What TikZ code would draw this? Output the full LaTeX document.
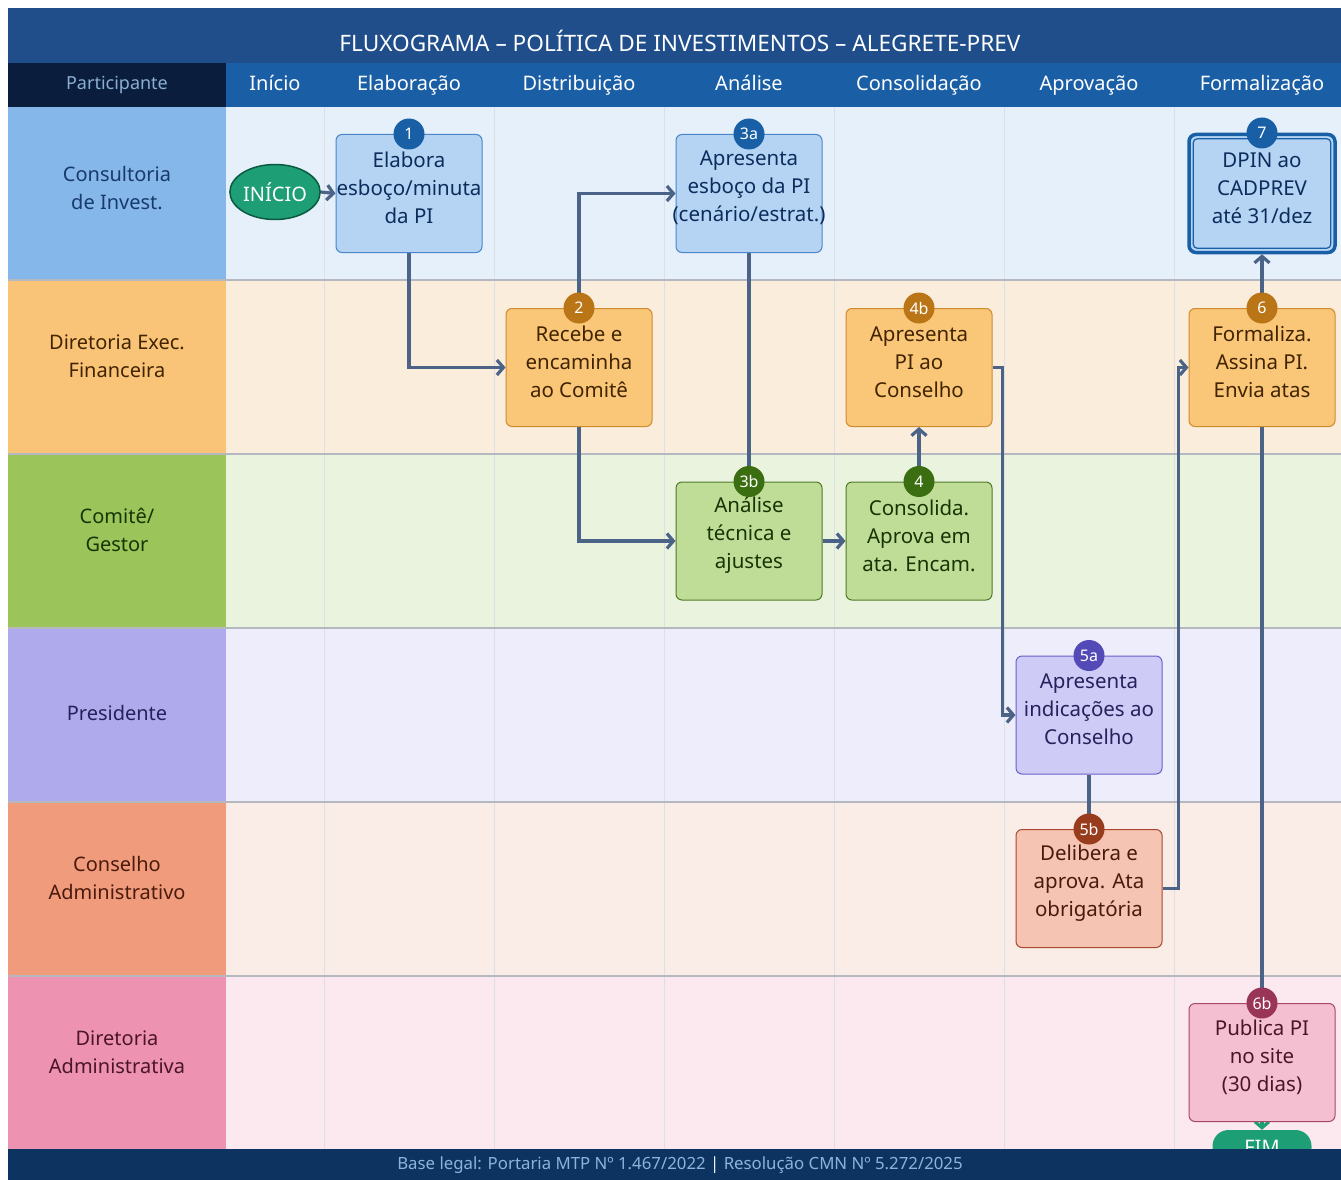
\documentclass[tikz,border=0pt]{standalone}
\usepackage{fontspec}
\setmainfont{Noto Sans}
\usetikzlibrary{arrows.meta,shapes.geometric,calc}
\pgfdeclarelayer{bg}
\pgfdeclarelayer{edges}
\pgfdeclarelayer{fg}
\pgfsetlayers{bg,edges,main,fg}
\definecolor{titlebg}{HTML}{1F4E8A}
\definecolor{headbg}{HTML}{1A5EA6}
\definecolor{partbg}{HTML}{0B1D3C}
\definecolor{parttxt}{HTML}{8AAFD3}
\definecolor{footbg}{HTML}{0D3461}
\definecolor{foottxt}{HTML}{8DB3DA}
\definecolor{conncol}{HTML}{4A6387}
\definecolor{gridcol}{HTML}{DCE0E5}
\definecolor{sepcol}{HTML}{B5B9BF}
\definecolor{startfill}{HTML}{1D9E75}
\definecolor{startdraw}{HTML}{0A5A40}
% lanes
\definecolor{labA}{HTML}{85B7EB}\definecolor{lanA}{HTML}{E6F0FB}\definecolor{txtA}{HTML}{173B6B}
\definecolor{labB}{HTML}{F9C477}\definecolor{lanB}{HTML}{FBEDDB}\definecolor{txtB}{HTML}{412402}
\definecolor{labC}{HTML}{9BC45B}\definecolor{lanC}{HTML}{EAF3DD}\definecolor{txtC}{HTML}{173404}
\definecolor{labD}{HTML}{AFAAEB}\definecolor{lanD}{HTML}{EEEDFB}\definecolor{txtD}{HTML}{26215C}
\definecolor{labE}{HTML}{F09B7B}\definecolor{lanE}{HTML}{FAECE7}\definecolor{txtE}{HTML}{4A1B0C}
\definecolor{labF}{HTML}{ED93B1}\definecolor{lanF}{HTML}{FBE9EF}\definecolor{txtF}{HTML}{4B1528}
% boxes
\definecolor{fillA}{HTML}{B5D4F4}\definecolor{drawA}{HTML}{4A86C8}\definecolor{bdA}{HTML}{185FA5}\definecolor{btA}{HTML}{0C2D5C}
\definecolor{fillB}{HTML}{FAC678}\definecolor{drawB}{HTML}{CF8B2F}\definecolor{bdB}{HTML}{BA7517}\definecolor{btB}{HTML}{412402}
\definecolor{fillC}{HTML}{C0DD97}\definecolor{drawC}{HTML}{4F7A2A}\definecolor{bdC}{HTML}{3B6D11}\definecolor{btC}{HTML}{173404}
\definecolor{fillD}{HTML}{CECBF6}\definecolor{drawD}{HTML}{6B62C7}\definecolor{bdD}{HTML}{534AB7}\definecolor{btD}{HTML}{26215C}
\definecolor{fillE}{HTML}{F5C4B3}\definecolor{drawE}{HTML}{A9492C}\definecolor{bdE}{HTML}{993C1D}\definecolor{btE}{HTML}{4A1B0C}
\definecolor{fillF}{HTML}{F4C0D1}\definecolor{drawF}{HTML}{A7476A}\definecolor{bdF}{HTML}{993556}\definecolor{btF}{HTML}{4B1528}
\tikzset{
  box/.style={rectangle, rounded corners=6pt, minimum width=146pt, minimum height=118pt, inner sep=0pt, line width=1pt},
  boxtxt/.style={align=center, font=\fontsize{20.5}{28}\selectfont, inner sep=0pt},
  badge/.style={circle, minimum size=31pt, inner sep=0pt, text=white, font=\fontsize{16}{16}\selectfont},
  lanetxt/.style={align=center, font=\fontsize{20}{28}\selectfont, inner sep=0pt},
  headtxt/.style={text=white, font=\fontsize{20}{24}\selectfont, inner sep=0pt, anchor=base},
  conn/.style={draw=conncol, line width=3.2pt, -{Straight Barb[length=6.5pt,width=15pt]}},
  connl/.style={draw=conncol, line width=3.2pt},
}
\newcommand\mkstep[6]{%
  \node[box, fill=fill#4, draw=draw#4] (#1) at (#2,#3) {};
  \node[boxtxt, text=bt#4] (#1-tx) at (#2,#3-5.5) {#6};
  \node[badge, fill=bd#4] (#1-bd) at (#1.north) {#5};
}
\begin{document}
\begin{tikzpicture}[x=1pt,y=-1pt]
\useasboundingbox (0,0) rectangle (1341,1180);
\begin{pgfonlayer}{bg}
  \fill[white] (0,0) rectangle (1341,1180);
  \fill[titlebg] (8,8) rectangle (1341,63);
  \fill[partbg] (8,63) rectangle (226,107);
  \fill[headbg] (226,63) rectangle (1341,107);
  \foreach \tp/\lc/\bc [count=\i] in {107/labA/lanA, 280/labB/lanB, 454/labC/lanC, 628/labD/lanD, 802/labE/lanE, 976/labF/lanF}{
    \fill[\lc] (8,\tp) rectangle (226,\tp+174);
    \fill[\bc] (226,\tp) rectangle (1341,\tp+174);
  }
  \foreach \x in {324,494,664,834,1004,1174}
    \draw[gridcol, line width=1pt] (\x,107) -- (\x,1150);
  \foreach \y in {280,454,628,802,976}
    \draw[sepcol, line width=1.3pt] (8,\y) -- (1341,\y);
\end{pgfonlayer}

\node[text=white, font=\fontsize{22.6}{26}\selectfont, inner sep=0pt] (title) at (680,41) {FLUXOGRAMA – POLÍTICA DE INVESTIMENTOS – ALEGRETE-PREV};
\node[text=parttxt, font=\fontsize{18}{22}\selectfont, inner sep=0pt, anchor=base] (part) at (117,90) {Participante};
\foreach \x/\t [count=\i] in {275/Início, 409/Elaboração, 579/Distribuição, 749/Análise, 919/Consolidação, 1089/Aprovação, 1262/Formalização}
  \node[headtxt] (H\i) at (\x,90.5) {\t};

\node[lanetxt, text=txtA] (L1) at (117,188) {Consultoria\\de Invest.};
\node[lanetxt, text=txtB] (L2) at (117,356) {Diretoria Exec.\\Financeira};
\node[lanetxt, text=txtC] (L3) at (117,530) {Comitê/\\Gestor};
\node[lanetxt, text=txtD] (L4) at (117,713) {Presidente};
\node[lanetxt, text=txtE] (L5) at (117,878) {Conselho\\Administrativo};
\node[lanetxt, text=txtF] (L6) at (117,1052) {Diretoria\\Administrativa};

\node[ellipse, fill=startfill, draw=startdraw, line width=1.5pt, minimum width=88pt, minimum height=55pt, inner sep=0pt, text=white, font=\fontsize{20}{24}\selectfont] (start) at (275,192) {INÍCIO};

\mkstep{s1}{409}{193.5}{A}{1}{Elabora\\esboço/minuta\\da PI}
\mkstep{s3a}{749}{193.5}{A}{3a}{Apresenta\\esboço da PI\\(cenário/estrat.)}
\mkstep{s2}{579}{367.5}{B}{2}{Recebe e\\encaminha\\ao Comitê}
\mkstep{s4b}{919}{367.5}{B}{4b}{Apresenta\\PI ao\\Conselho}
\mkstep{s6}{1262}{367.5}{B}{6}{Formaliza.\\Assina PI.\\Envia atas}
\mkstep{s3b}{749}{541}{C}{3b}{Análise\\técnica e\\ajustes}
\mkstep{s4}{919}{541}{C}{4}{Consolida.\\Aprova em\\ata. Encam.}
\mkstep{s5a}{1089}{715}{D}{5a}{Apresenta\\indicações ao\\Conselho}
\mkstep{s5b}{1089}{888.5}{E}{5b}{Delibera e\\aprova. Ata\\obrigatória}
\mkstep{s6b}{1262}{1062.5}{F}{6b}{Publica PI\\no site\\(30 dias)}

\node[box, fill=fillA, draw=bdA, line width=3.5pt, rounded corners=7pt] (s7) at (1262,193.5) {};
\draw[bdA, line width=1.2pt, rounded corners=4pt] ([xshift=6pt,yshift=-6pt]s7.north west) rectangle ([xshift=-6pt,yshift=6pt]s7.south east);
\node[boxtxt, text=btA] (s7-tx) at (1262,188) {DPIN ao\\CADPREV\\até 31/dez};
\node[badge, fill=bdA] (s7-bd) at (1262,133) {7};

\node[rectangle, rounded corners=16pt, fill=startfill, minimum width=99pt, minimum height=34pt, inner sep=0pt, text=white, font=\fontsize{20}{24}\selectfont] (fim) at (1262,1147) {FIM};

\begin{pgfonlayer}{edges}
  \draw[conn] (start.east) -- (s1.west);
  \draw[conn] (s1.south) |- (s2.west);
  \draw[conn] (s2-bd.center) |- (s3a.west);
  \draw[conn] (s2.south) |- (s3b.west);
  \draw[connl] (s3a.south) -- (s3b-bd.center);
  \draw[conn] (s3b.east) -- (s4.west);
  \draw[conn] (s4-bd.center) -- (s4b.south);
  \draw[conn] (s4b.east) -- ++(10,0) |- (s5a.west);
  \draw[connl] (s5a.south) -- (s5b-bd.center);
  \draw[conn] (s5b.east) -- ++(16,0) |- (s6.west);
  \draw[conn] (s6-bd.center) -- (s7.south);
  \draw[connl] (s6.south) -- (s6b-bd.center);
  \draw[draw=startfill, line width=3.2pt, -{Straight Barb[length=6pt,width=14pt]}] (s6b.south) -- (fim.north);
\end{pgfonlayer}

\begin{pgfonlayer}{fg}
  \fill[footbg] (8,1149) rectangle (1341,1180);
  \node[text=foottxt, font=\fontsize{16.8}{20}\selectfont, inner sep=0pt] (foot) at (680,1165.5) {Base legal: Portaria MTP Nº 1.467/2022 {\color{white!85!foottxt}|} Resolução CMN Nº 5.272/2025};
\end{pgfonlayer}
\end{tikzpicture}
\end{document}
